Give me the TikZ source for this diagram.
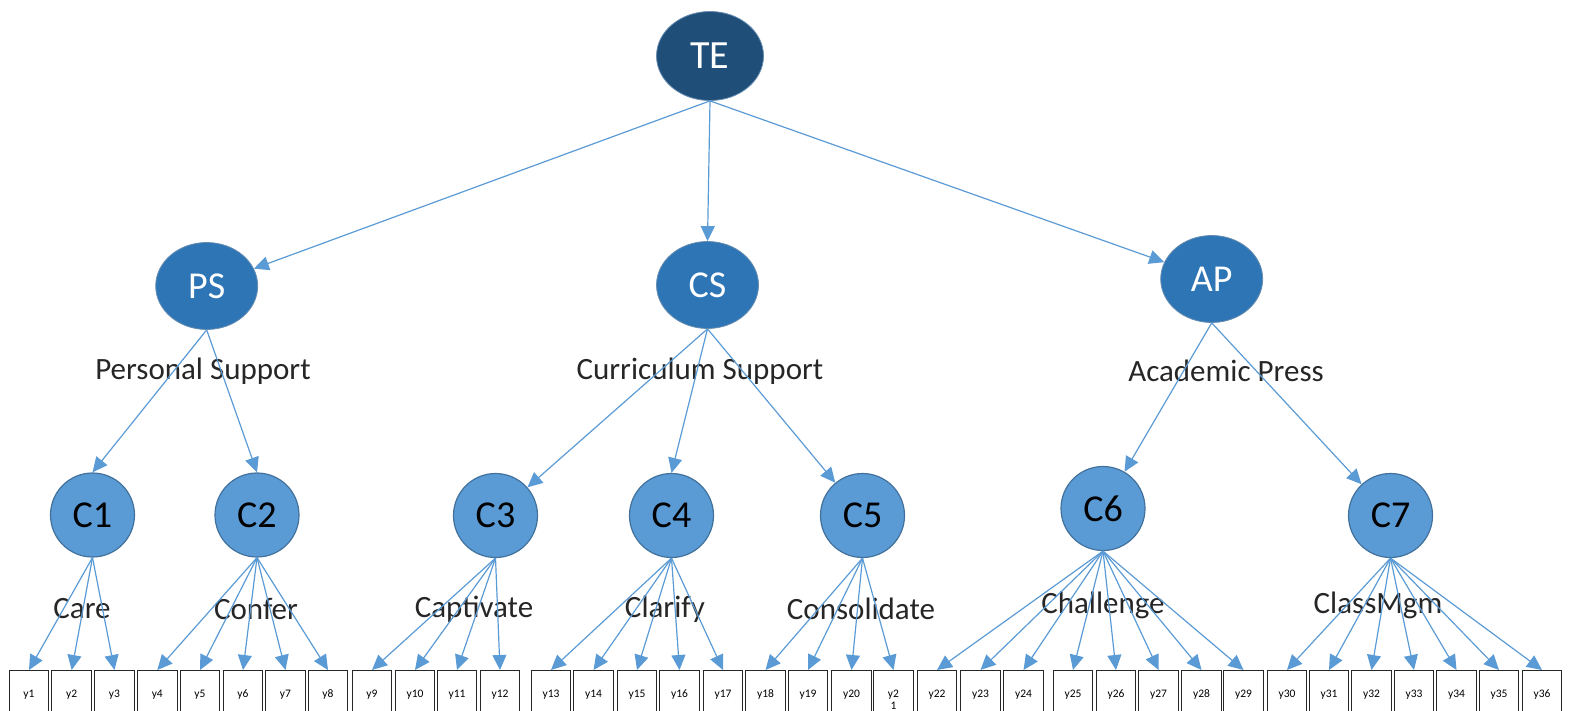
\documentclass[tikz,border=0pt]{standalone}
\usepackage{fontspec}
\setmainfont{Carlito}
\usetikzlibrary{shapes.geometric,arrows.meta}
\definecolor{teblue}{HTML}{1F4E79}
\definecolor{midblue}{HTML}{2E75B6}
\definecolor{lightblue}{HTML}{5B9BD5}
\definecolor{edgeblue}{HTML}{41719C}
\begin{document}
\begin{tikzpicture}[x=1pt,y=-1pt,
  topnode/.style={ellipse, fill=teblue, draw=edgeblue!80, line width=0.8pt, minimum width=107pt, minimum height=89pt, inner sep=0pt, text=white, font=\fontsize{40}{44}\selectfont},
  midnode/.style={ellipse, fill=midblue, draw=edgeblue!80, line width=0.8pt, minimum width=102pt, minimum height=87pt, inner sep=0pt, text=white, font=\fontsize{38}{42}\selectfont},
  cnode/.style={circle, fill=lightblue, draw=edgeblue, line width=1.2pt, minimum size=84pt, inner sep=0pt, text=black, font=\fontsize{38}{42}\selectfont},
  lab/.style={text=black!85, inner sep=0pt, font=\fontsize{31}{36}\selectfont},
  ybox/.style={draw=black!85, line width=1pt, fill=white, minimum width=39.5pt, minimum height=48pt, anchor=north, inner sep=0pt, font=\fontsize{11.5}{13}\selectfont, text height=7pt, text depth=2pt},
  arr/.style={draw=lightblue, line width=1.2pt, -{Triangle[length=15pt,width=14pt]}, color=lightblue}
]
\useasboundingbox (0,0) rectangle (1573,711);

\node[topnode] (TE) at (710,56) {TE};
\node[midnode] (PS) at (206.7,286) {PS};
\node[midnode] (CS) at (707.5,285) {CS};
\node[midnode] (AP) at (1211.7,279) {AP};

\node[lab] (lPS) at (203,371) {Personal Support};
\node[lab] (lCS) at (700,371) {Curriculum Support};
\node[lab] (lAP) at (1226,371) {Academic Press};

\node[cnode] (C1) at (92.5,515) {C1};
\node[cnode] (C2) at (257,515) {C2};
\node[cnode] (C3) at (495.5,515.5) {C3};
\node[cnode] (C4) at (671.5,515.5) {C4};
\node[cnode] (C5) at (862.5,515.5) {C5};
\node[cnode] (C6) at (1103,508.5) {C6};
\node[cnode] (C7) at (1390.5,515.5) {C7};

\node[lab] (l1) at (82,609) {Care};
\node[lab] (l2) at (256,609) {Confer};
\node[lab] (l3) at (474,609) {Captivate};
\node[lab] (l4) at (665,609) {Clarify};
\node[lab] (l5) at (861,609) {Consolidate};
\node[lab] (l6) at (1103,605) {Challenge};
\node[lab] (l7) at (1378,605) {ClassMgm};

\foreach \i/\x in {1/29,2/71.7,3/114.5,4/157.3,5/200,6/243,7/285.5,8/328,9/372,10/415,11/457,12/500,
  13/551,14/593.5,15/637,16/679.5,17/723,18/765.5,19/808,20/851.5,22/937,23/980.5,24/1023.5,
  25/1073,26/1116,27/1158.5,28/1201.5,29/1243.5,30/1287,31/1329,32/1371.5,33/1414,34/1456.5,35/1499,36/1542}
  \node[ybox] (y\i) at (\x,670) {y\i};
\node[ybox] (y21) at (893.5,670) {\begin{tabular}[t]{@{}c@{}}y2\\[-1pt]1\end{tabular}};

\draw[arr] (TE.south) -- (PS);
\draw[arr] (TE.south) -- (CS.north);
\draw[arr] (TE.south) -- (AP);

\draw[arr] (PS.south) -- (C1.north);
\draw[arr] (PS.south) -- (C2.north);
\draw[arr] (CS.south) -- (C3);
\draw[arr] (CS.south) -- (C4.north);
\draw[arr] (CS.south) -- (C5);
\draw[arr] (AP.south) -- (C6);
\draw[arr] (AP.south) -- (C7);

\foreach \c/\l in {C1/{1,2,3},C2/{4,5,6,7,8},C3/{9,10,11,12},C4/{13,14,15,16,17},C5/{18,19,20,21},C6/{22,23,24,25,26,27,28,29},C7/{30,31,32,33,34,35,36}}
  \foreach \i in \l
    \draw[arr] (\c.south) -- (y\i.north);
\end{tikzpicture}
\end{document}
